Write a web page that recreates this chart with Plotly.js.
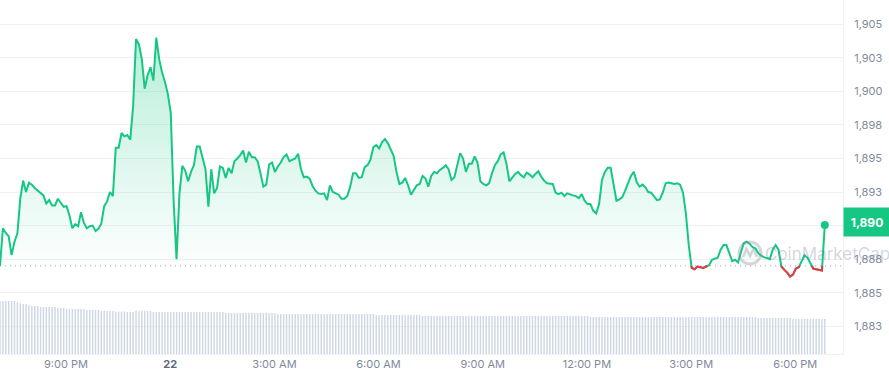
<!DOCTYPE html>
<html>
<head>
<meta charset="utf-8">
<script src="https://cdn.plot.ly/plotly-3.0.1.min.js"></script>
<style>
html,body{margin:0;padding:0;background:#ffffff;}
#chart{width:889px;height:380px;}
</style>
</head>
<body>
<div id="chart"></div>
<script>
// ---- data ----
const startTime = '2023-05-21T19:06:00Z';   // time of first sample
const stepMinutes = 5;                       // sampling interval

const prices = [
 1887.0, 1889.8, 1889.45, 1889.2, 1887.8, 1888.8, 1889.4, 1892.0, 1893.35, 1892.5,
 1893.2, 1893.05, 1892.8, 1892.6, 1892.4, 1892.25, 1891.65, 1891.9, 1891.5, 1891.5,
 1892.0, 1891.7, 1891.4, 1891.45, 1890.75, 1889.8, 1890.1, 1889.95, 1891.0, 1890.2,
 1889.8, 1889.95, 1890.0, 1889.6, 1889.75, 1890.15, 1891.45, 1891.8, 1892.5, 1892.2,
 1895.8, 1895.8, 1896.9, 1896.65, 1896.75, 1896.4, 1898.9, 1903.9, 1903.5, 1902.4,
 1900.2, 1901.2, 1901.8, 1900.8, 1904.0, 1902.4, 1901.4, 1900.7, 1899.8, 1898.4,
 1891.8, 1887.5, 1892.4, 1894.45, 1894.1, 1893.3, 1894.0, 1894.5, 1895.9, 1895.9,
 1895.0, 1894.2, 1891.4, 1894.2, 1892.4, 1892.8, 1894.4, 1894.3, 1893.55, 1894.3,
 1893.9, 1894.8, 1895.0, 1895.25, 1895.6, 1894.7, 1895.5, 1895.1, 1895.1, 1894.8,
 1893.9, 1892.9, 1893.05, 1894.55, 1894.7, 1894.0, 1894.4, 1894.7, 1895.1, 1895.3,
 1894.8, 1894.9, 1895.0, 1895.35, 1894.2, 1893.6, 1893.65, 1893.5, 1892.95, 1892.6,
 1892.4, 1892.35, 1892.4, 1891.9, 1893.0, 1892.5, 1892.4, 1892.3, 1892.0, 1892.0,
 1892.2, 1892.9, 1893.9, 1893.9, 1893.55, 1893.6, 1894.35, 1894.5, 1894.9, 1895.85,
 1896.0, 1895.75, 1896.2, 1896.45, 1896.15, 1895.7, 1895.2, 1894.0, 1893.1, 1893.2,
 1893.55, 1893.0, 1892.3, 1892.65, 1893.0, 1893.1, 1893.7, 1893.5, 1892.9, 1893.7,
 1894.0, 1893.9, 1894.15, 1894.3, 1894.5, 1894.2, 1893.4, 1893.6, 1894.6, 1895.4,
 1895.0, 1894.0, 1894.6, 1894.6, 1895.15, 1894.7, 1893.3, 1893.1, 1893.0, 1893.15,
 1893.9, 1894.5, 1894.8, 1895.3, 1895.45, 1894.6, 1893.3, 1893.6, 1893.85, 1894.0,
 1893.75, 1893.6, 1893.95, 1893.8, 1893.6, 1893.85, 1894.05, 1893.65, 1893.35, 1893.15,
 1893.1, 1893.1, 1892.45, 1892.35, 1892.45, 1892.2, 1892.4, 1892.3, 1892.25, 1892.2,
 1892.05, 1892.35, 1891.85, 1891.6, 1891.6, 1891.1, 1890.9, 1891.6, 1893.4, 1894.0,
 1894.3, 1894.3, 1892.9, 1891.85, 1891.95, 1892.1, 1892.6, 1893.1, 1893.7, 1894.0,
 1893.25, 1892.9, 1893.05, 1892.85, 1892.5, 1892.45, 1892.2, 1891.9, 1891.95, 1892.45,
 1893.15, 1893.2, 1893.15, 1893.1, 1893.15, 1893.05, 1892.45, 1890.9, 1888.5, 1886.85,
 1886.75, 1886.95, 1886.9, 1886.85, 1886.95, 1887.05, 1887.45, 1887.5, 1887.6, 1888.2,
 1888.55, 1888.55, 1888.0, 1887.35, 1887.45, 1887.25, 1888.0, 1888.7, 1888.8, 1888.65,
 1888.4, 1888.3, 1887.95, 1887.75, 1887.65, 1887.6, 1887.5, 1888.2, 1888.55, 1888.2,
 1886.95, 1886.7, 1886.5, 1886.2, 1886.35, 1886.8, 1886.9, 1887.35, 1887.8, 1887.6,
 1887.2, 1886.8, 1886.75, 1886.7, 1886.65, 1890.05
];

const volumes = [
 5.30, 5.30, 5.30, 5.30, 5.30, 5.30, 5.17, 5.07, 5.00, 5.00,
 4.90, 4.80, 4.80, 4.80, 4.70, 4.70, 4.70, 4.70, 4.70, 4.70,
 4.60, 4.60, 4.60, 4.50, 4.50, 4.50, 4.50, 4.50, 4.50, 4.50,
 4.40, 4.40, 4.40, 4.40, 4.40, 4.30, 4.30, 4.30, 4.30, 4.30,
 4.25, 4.25, 4.25, 4.25, 4.20, 4.20, 4.20, 4.30, 4.30, 4.30,
 4.30, 4.30, 4.30, 4.20, 4.20, 4.20, 4.20, 4.20, 4.20, 4.20,
 4.20, 4.20, 4.20, 4.20, 4.20, 4.20, 4.20, 4.20, 4.20, 4.20,
 4.20, 4.20, 4.20, 4.20, 4.20, 4.20, 4.20, 4.20, 4.10, 4.10,
 4.10, 4.10, 4.10, 4.10, 4.10, 4.10, 4.10, 4.10, 4.10, 4.10,
 4.10, 4.10, 4.10, 4.10, 4.10, 4.10, 4.00, 4.00, 4.00, 4.00,
 4.00, 4.00, 4.00, 4.00, 4.00, 4.00, 4.00, 4.00, 4.00, 4.00,
 4.00, 4.00, 4.00, 4.00, 4.00, 4.00, 4.00, 4.00, 4.00, 4.00,
 4.00, 4.00, 4.00, 4.00, 4.00, 4.00, 4.00, 4.00, 4.00, 4.00,
 3.90, 3.90, 3.90, 3.90, 3.90, 3.90, 3.90, 3.90, 3.90, 3.90,
 3.90, 3.90, 3.90, 3.90, 3.90, 3.90, 3.80, 3.80, 3.80, 3.80,
 3.80, 3.80, 3.80, 3.80, 3.80, 3.80, 3.80, 3.80, 3.80, 3.80,
 3.80, 3.80, 3.80, 3.80, 3.80, 3.80, 3.80, 3.80, 3.80, 3.80,
 3.80, 3.80, 3.80, 3.80, 3.80, 3.80, 3.80, 3.80, 3.80, 3.80,
 3.80, 3.80, 3.80, 3.80, 3.80, 3.80, 3.80, 3.80, 3.80, 3.80,
 3.80, 3.80, 3.80, 3.80, 3.80, 3.80, 3.80, 3.80, 3.80, 3.80,
 3.80, 3.80, 3.80, 3.80, 3.70, 3.70, 3.70, 3.70, 3.70, 3.70,
 3.70, 3.70, 3.70, 3.70, 3.70, 3.70, 3.70, 3.70, 3.70, 3.70,
 3.70, 3.70, 3.70, 3.70, 3.70, 3.70, 3.70, 3.70, 3.70, 3.70,
 3.70, 3.70, 3.70, 3.70, 3.70, 3.70, 3.70, 3.70, 3.70, 3.70,
 3.70, 3.70, 3.70, 3.70, 3.70, 3.70, 3.70, 3.70, 3.70, 3.70,
 3.70, 3.70, 3.70, 3.70, 3.70, 3.70, 3.70, 3.70, 3.70, 3.70,
 3.70, 3.70, 3.60, 3.60, 3.60, 3.60, 3.60, 3.60, 3.60, 3.60,
 3.60, 3.60, 3.60, 3.60, 3.50, 3.50, 3.50, 3.50, 3.50, 3.50,
 3.50, 3.50, 3.50, 3.50, 3.50, 3.50
];

const yTickVals = [1882.5, 1885, 1887.5, 1890, 1892.5, 1895, 1897.5, 1900, 1902.5, 1905];
const yTickText = ['1,883', '1,885', '1,888', '1,890', '1,893', '1,895', '1,898', '1,900', '1,903', '1,905'];
const xTickVals = ['2023-05-21 21:00', '2023-05-22 00:00', '2023-05-22 03:00', '2023-05-22 06:00',
                   '2023-05-22 09:00', '2023-05-22 12:00', '2023-05-22 15:00', '2023-05-22 18:00'];
const xTickText = ['9:00 PM', '<b><span style="color:#58667e">22</span></b>', '3:00 AM', '6:00 AM',
                   '9:00 AM', '12:00 PM', '3:00 PM', '6:00 PM'];

// ---- build ----
const GREEN = '#16c784', RED = '#ea3943';
const t0 = Date.parse(startTime);
const n = prices.length;
const times = prices.map((_, i) => t0 + i * stepMinutes * 60000);
const base = prices[0];
const last = prices[n - 1];
const maxP = Math.max.apply(null, prices);
const lastLabel = Math.round(last).toLocaleString('en-US');

// the tick label hidden behind the current-price badge is left blank
const yTickShown = yTickText.map(t => (t === lastLabel ? '' : t));

// red overlay where the price is under the opening price
const rx = [], ry = [];
for (let i = 0; i < n; i++) {
  const below = prices[i] < base;
  if (i > 0) {
    const pb = prices[i - 1] < base;
    if (pb !== below) {
      const f = (base - prices[i - 1]) / (prices[i] - prices[i - 1]);
      rx.push(times[i - 1] + f * (times[i] - times[i - 1])); ry.push(base);
      if (!below) { rx.push(null); ry.push(null); }
    }
  }
  if (below) { rx.push(times[i]); ry.push(prices[i]); }
}

const traces = [
  { type: 'bar', x: times, y: volumes, yaxis: 'y2', marker: { color: '#cfd6e4', line: { width: 0 } },
    hoverinfo: 'skip', showlegend: false },
  { type: 'scatter', mode: 'lines', x: times, y: prices.map(() => base), line: { width: 0, color: 'rgba(0,0,0,0)' },
    hoverinfo: 'skip', showlegend: false },
  { type: 'scatter', mode: 'lines', x: times, y: prices, fill: 'tonexty',
    fillgradient: { type: 'vertical', start: base, stop: maxP,
      colorscale: [[0, 'rgba(22,199,132,0.01)'], [1, 'rgba(22,199,132,0.30)']] },
    line: { color: GREEN, width: 2 }, showlegend: false },
  { type: 'scatter', mode: 'lines', x: rx, y: ry, line: { color: RED, width: 2 },
    connectgaps: false, hoverinfo: 'skip', showlegend: false },
  { type: 'scatter', mode: 'markers', x: [times[n - 1]], y: [last],
    marker: { color: GREEN, size: 8 }, hoverinfo: 'skip', showlegend: false }
];

const tickFont = { family: 'Inter, Roboto, sans-serif', size: 11, color: '#808a9d' };
const plotW = 843, plotH = 354;
const px = v => (v / plotW).toFixed(4);
const py = v => (1 - v / plotH).toFixed(4);
const wmColor = 'rgba(128,138,157,0.35)';

const layout = {
  width: 889, height: 380,
  margin: { l: 0, r: 46, t: 0, b: 26, pad: 0 },
  paper_bgcolor: '#ffffff', plot_bgcolor: '#ffffff',
  showlegend: false, bargap: 0.5,
  xaxis: {
    type: 'date', range: [t0, t0 + 1456.4 * 60000],
    tickvals: xTickVals, ticktext: xTickText, tickfont: tickFont,
    showgrid: false, zeroline: false, showline: true, linecolor: '#eff2f5', linewidth: 1,
    ticks: '', fixedrange: true
  },
  yaxis: {
    side: 'right', range: [1880.43, 1906.81],
    tickvals: yTickVals, ticktext: yTickShown, tickfont: tickFont,
    showgrid: true, gridcolor: '#eff2f5', gridwidth: 1, zeroline: false,
    showline: true, linecolor: '#eff2f5', linewidth: 1, ticks: '', ticklabelstandoff: 8,
    fixedrange: true
  },
  yaxis2: { overlaying: 'y', range: [0, 35.4], visible: false, fixedrange: true },
  shapes: [
    { type: 'line', xref: 'paper', x0: 0, x1: 1, yref: 'y', y0: base, y1: base, layer: 'below',
      line: { color: '#a1a7bb', width: 1, dash: '1px,4px' } },
    { type: 'circle', xref: 'paper', yref: 'paper',
      x0: 739 / plotW, x1: 761 / plotW, y0: 1 - 264 / plotH, y1: 1 - 242 / plotH,
      line: { color: wmColor, width: 3 } },
    { type: 'path', xref: 'paper', yref: 'paper',
      path: 'M ' + px(743) + ' ' + py(257) + ' L ' + px(746.5) + ' ' + py(249) + ' L ' + px(750) + ' ' + py(256) +
            ' L ' + px(753.5) + ' ' + py(249) + ' L ' + px(757) + ' ' + py(257),
      line: { color: wmColor, width: 2.5 } }
  ],
  annotations: [
    { xref: 'paper', x: 1, xanchor: 'left', yref: 'y', y: last, yanchor: 'middle', yshift: 3,
      text: '<b>' + lastLabel + '</b>', showarrow: false,
      font: { family: 'Inter, Roboto, sans-serif', size: 12, color: '#ffffff' },
      bgcolor: GREEN, width: 46, height: 28, borderpad: 0, align: 'center' },
    { xref: 'paper', x: 763 / plotW, xanchor: 'left', yref: 'paper', y: 1 - 254 / plotH, yanchor: 'middle',
      text: 'CoinMarketCap', showarrow: false,
      font: { family: 'Inter, Roboto, sans-serif', size: 17, color: wmColor } }
  ]
};

Plotly.newPlot('chart', traces, layout, { displayModeBar: false, staticPlot: true });
</script>
</body>
</html>
